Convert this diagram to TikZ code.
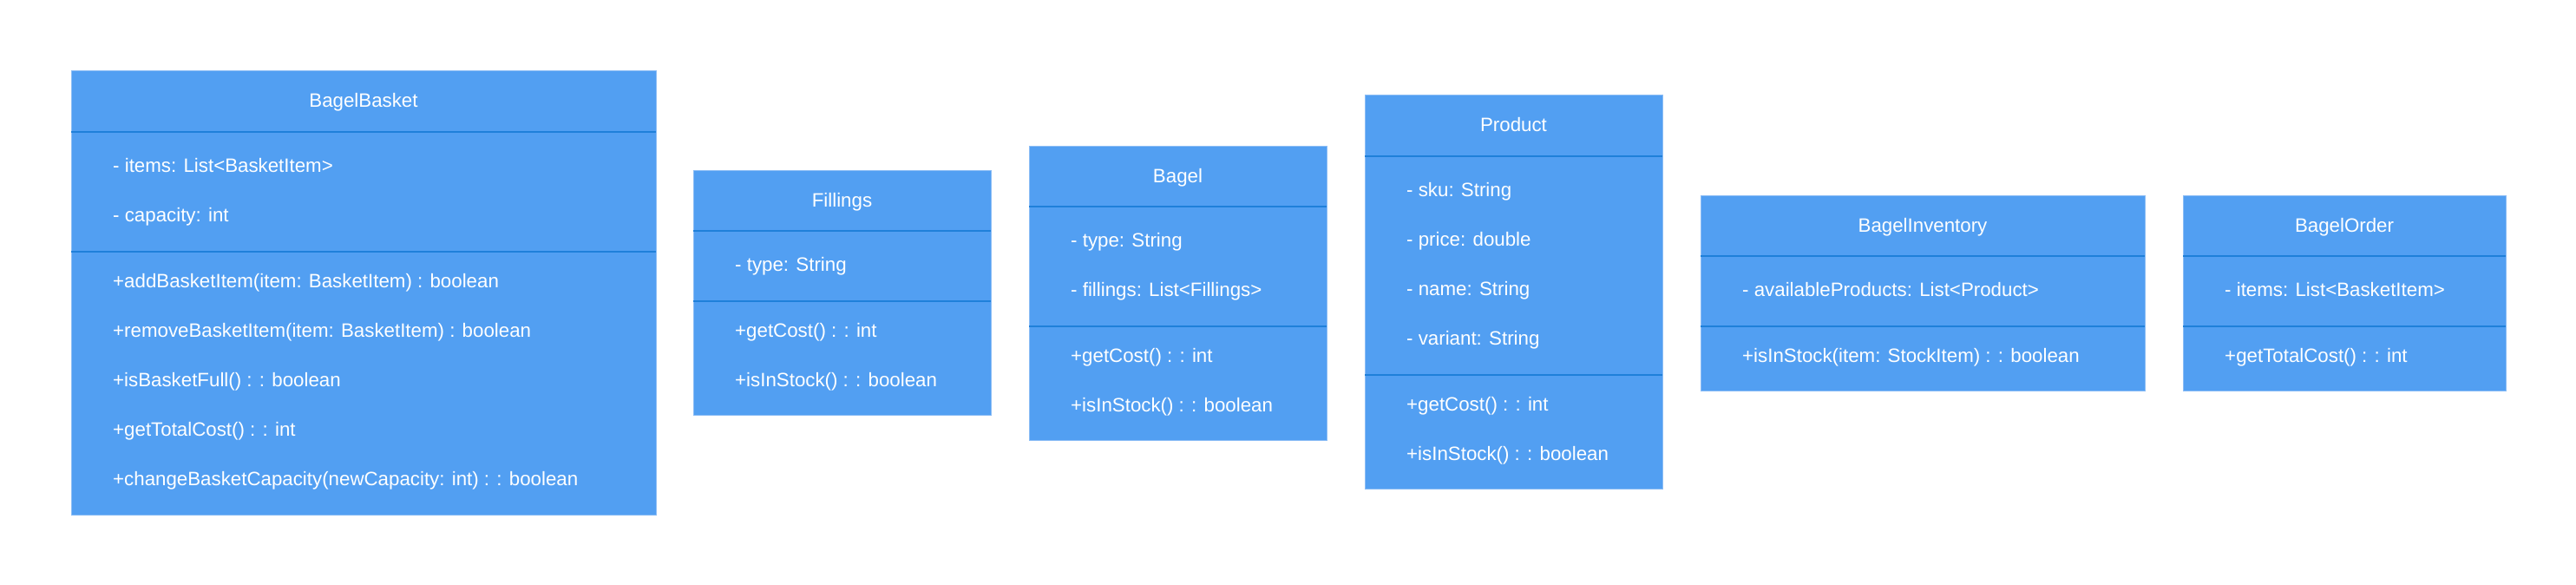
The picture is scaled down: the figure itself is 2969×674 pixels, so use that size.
\documentclass[tikz,border=0pt]{standalone}
\usepackage{fontspec}
\setmainfont{Liberation Sans}
\definecolor{boxfill}{HTML}{529FF2}
\definecolor{boxedge}{HTML}{8CBDF5}
\definecolor{divcol}{HTML}{1F80DA}
\tikzset{
  umlbox/.style={draw=boxedge, line width=1pt, fill=boxfill, inner sep=0pt, outer sep=0pt, anchor=north west},
  umltitle/.style={text=white, font=\fontsize{22.3}{27}\selectfont, anchor=base, inner sep=0pt},
  umlmember/.style={text=white, font=\fontsize{22.3}{27}\selectfont, anchor=base west, inner sep=0pt},
  umldiv/.style={draw=divcol, line width=1.8pt}
}
\begin{document}
\begin{tikzpicture}[x=1pt,y=1pt]
\useasboundingbox (0,0) rectangle (2969,-674);
\fill[white] (0,0) rectangle (2969,-674);

% BagelBasket
\node[umlbox, minimum width=674pt, minimum height=511pt] (bb) at (82,-82) {};
\draw[umldiv] (82,-152) -- (756,-152);
\draw[umldiv] (82,-290) -- (756,-290);
\node[umltitle] (bbt) at (419,-124) {BagelBasket};
\node[umlmember] (bba1) at (130,-198) {- items: List<BasketItem>};
\node[umlmember] (bba2) at (130,-255) {- capacity: int};
\node[umlmember] (bbm1) at (130,-331) {+addBasketItem(item: BasketItem) : boolean};
\node[umlmember] (bbm2) at (130,-388.2) {+removeBasketItem(item: BasketItem) : boolean};
\node[umlmember] (bbm3) at (130,-445.4) {+isBasketFull() : : boolean};
\node[umlmember] (bbm4) at (130,-502.6) {+getTotalCost() : : int};
\node[umlmember] (bbm5) at (130,-559.8) {+changeBasketCapacity(newCapacity: int) : : boolean};

% Fillings
\node[umlbox, minimum width=343pt, minimum height=282pt] (fi) at (799,-196) {};
\draw[umldiv] (799,-266) -- (1142,-266);
\draw[umldiv] (799,-347) -- (1142,-347);
\node[umltitle] (fit) at (970.5,-238) {Fillings};
\node[umlmember] (fia1) at (847,-312) {- type: String};
\node[umlmember] (fim1) at (847,-388) {+getCost() : : int};
\node[umlmember] (fim2) at (847,-445) {+isInStock() : : boolean};

% Bagel
\node[umlbox, minimum width=343pt, minimum height=339pt] (ba) at (1186,-168) {};
\draw[umldiv] (1186,-238) -- (1529,-238);
\draw[umldiv] (1186,-376) -- (1529,-376);
\node[umltitle] (bat) at (1357.5,-210) {Bagel};
\node[umlmember] (baa1) at (1234,-284) {- type: String};
\node[umlmember] (baa2) at (1234,-341) {- fillings: List<Fillings>};
\node[umlmember] (bam1) at (1234,-417) {+getCost() : : int};
\node[umlmember] (bam2) at (1234,-474) {+isInStock() : : boolean};

% Product
\node[umlbox, minimum width=343pt, minimum height=453pt] (pr) at (1573,-110) {};
\draw[umldiv] (1573,-180) -- (1916,-180);
\draw[umldiv] (1573,-432) -- (1916,-432);
\node[umltitle] (prt) at (1744.5,-152) {Product};
\node[umlmember] (pra1) at (1621,-226) {- sku: String};
\node[umlmember] (pra2) at (1621,-283) {- price: double};
\node[umlmember] (pra3) at (1621,-340) {- name: String};
\node[umlmember] (pra4) at (1621,-397) {- variant: String};
\node[umlmember] (prm1) at (1621,-473) {+getCost() : : int};
\node[umlmember] (prm2) at (1621,-530) {+isInStock() : : boolean};

% BagelInventory
\node[umlbox, minimum width=512pt, minimum height=225pt] (bi) at (1960,-225) {};
\draw[umldiv] (1960,-295) -- (2472,-295);
\draw[umldiv] (1960,-376) -- (2472,-376);
\node[umltitle] (bit) at (2216,-267) {BagelInventory};
\node[umlmember] (bia1) at (2008,-341) {- availableProducts: List<Product>};
\node[umlmember] (bim1) at (2008,-417) {+isInStock(item: StockItem) : : boolean};

% BagelOrder
\node[umlbox, minimum width=372pt, minimum height=225pt] (bo) at (2516,-225) {};
\draw[umldiv] (2516,-295) -- (2888,-295);
\draw[umldiv] (2516,-376) -- (2888,-376);
\node[umltitle] (bot) at (2702,-267) {BagelOrder};
\node[umlmember] (boa1) at (2564,-341) {- items: List<BasketItem>};
\node[umlmember] (bom1) at (2564,-417) {+getTotalCost() : : int};
\end{tikzpicture}
\end{document}
